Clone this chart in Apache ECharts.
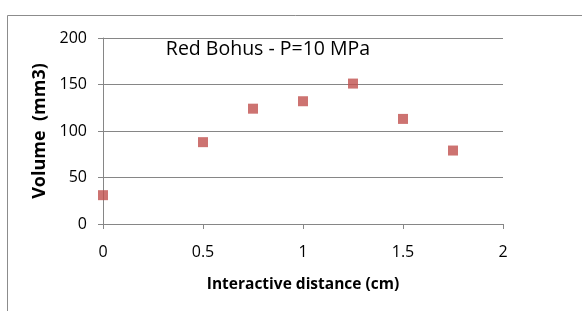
<!DOCTYPE html>
<html><head><meta charset="utf-8">
<script src="https://cdn.jsdelivr.net/npm/echarts@6/dist/echarts.min.js"></script>
<style>html,body{margin:0;padding:0;background:#fff}#c{width:582px;height:311px}</style>
</head><body><div id="c"></div>
<script>
const xValues = [0, 0.5, 0.75, 1.0, 1.25, 1.5, 1.75];
const volumes = [31, 88, 124, 132, 151, 113, 79];
const titleText = 'Red Bohus - P=10 MPa';
const xName = 'Interactive distance (cm)';
const yName = 'Volume  (mm3)';

const font = '"Open Sans", "Noto Sans", sans-serif';
const chart = echarts.init(document.getElementById('c'), null, {renderer: 'canvas'});
chart.setOption({
  animation: false,
  backgroundColor: '#fff',
  graphic: [{
    type: 'rect', shape: {x: 7.5, y: 15.5, width: 620, height: 340},
    style: {fill: 'none', stroke: '#8c8c8c', lineWidth: 1}, silent: true
  }],
  title: {
    text: titleText, left: 263, top: 34, textAlign: 'center',
    textStyle: {fontFamily: font, fontSize: 19.5, fontWeight: 'normal', color: '#000'}
  },
  grid: {left: 103, right: 79, top: 38, bottom: 87, containLabel: false},
  xAxis: {
    type: 'value', min: 0, max: 2, interval: 0.5,
    name: xName, nameLocation: 'middle', nameGap: 53,
    nameTextStyle: {fontFamily: font, fontSize: 15.5, fontWeight: 'bold', color: '#000'},
    axisLine: {show: true, lineStyle: {color: '#868686', width: 1}},
    axisTick: {show: true, length: 5, inside: false, lineStyle: {color: '#868686'}},
    axisLabel: {fontFamily: font, fontSize: 16, color: '#000', margin: 20},
    splitLine: {show: false}
  },
  yAxis: {
    type: 'value', min: 0, max: 200, interval: 50,
    name: yName, nameLocation: 'middle', nameGap: 45,
    nameTextStyle: {fontFamily: font, fontSize: 18, fontWeight: 'bold', color: '#000'},
    axisLine: {show: true, lineStyle: {color: '#868686', width: 1}},
    axisTick: {show: true, length: 5, inside: false, lineStyle: {color: '#868686'}},
    axisLabel: {fontFamily: font, fontSize: 16, color: '#000', margin: 16},
    splitLine: {show: true, lineStyle: {color: '#868686', width: 1}}
  },
  series: [{
    type: 'scatter', symbol: 'rect', symbolSize: 10,
    itemStyle: {color: '#C0504D'},
    data: xValues.map((x, i) => [x, volumes[i]])
  }]
});
</script></body></html>
